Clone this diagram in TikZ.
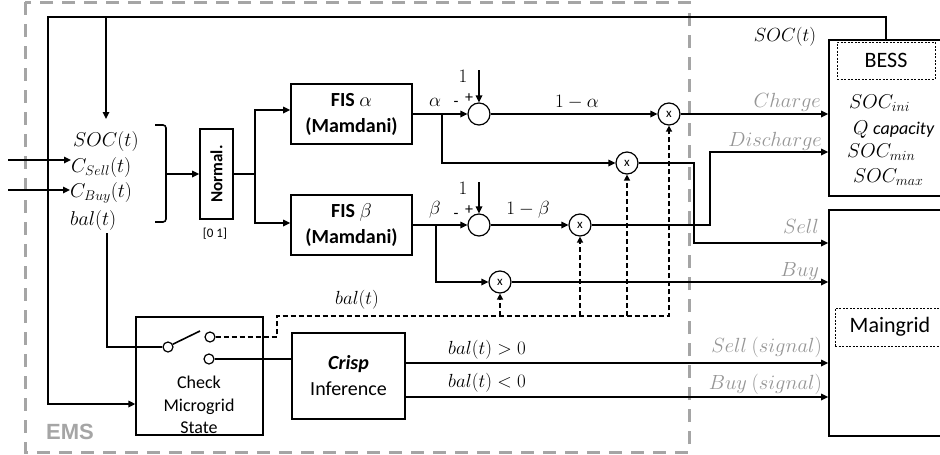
\RequirePackage{fix-cm}
\documentclass[tikz,border=0pt]{standalone}
\usepackage[no-math]{fontspec}
\setmainfont{Carlito}
\newfontfamily\emsfont{Liberation Sans}
\usetikzlibrary{arrows.meta,calc}
\definecolor{lblgray}{RGB}{150,150,150}
\definecolor{emsgray}{RGB}{165,165,165}
\newcommand{\fsz}[1]{\fontsize{#1}{#1}\selectfont}

\begin{document}
\begin{tikzpicture}[x=1pt,y=-1pt,
  wire/.style={line width=1.6pt},
  arr/.style={line width=1.6pt,-{Triangle[length=7pt,width=6.5pt]}},
  dline/.style={line width=1.4pt,dash pattern=on 5pt off 3pt},
  darr/.style={dline,-{Triangle[length=6pt,width=6pt]}},
  blk/.style={draw,line width=1.6pt,inner sep=0pt},
  sumc/.style={draw,circle,line width=1.2pt,minimum size=22pt,inner sep=0pt},
  mulc/.style={draw,circle,line width=1.2pt,minimum size=22pt,inner sep=0pt,font=\fsz{13}},
  contact/.style={draw,circle,line width=1.2pt,minimum size=10pt,inner sep=0pt,fill=white},
  mlab/.style={font=\fsz{20},inner sep=0pt},
  slab/.style={font=\fsz{19},inner sep=0pt},
  glab/.style={font=\fsz{20.5},inner sep=0pt,text=lblgray,anchor=base east},
  dotbox/.style={draw,line width=0.9pt,dash pattern=on 2pt off 1.5pt,inner sep=0pt},
  emsbox/.style={draw=emsgray,line width=3pt,dash pattern=on 13pt off 9pt},
  sign/.style={font=\fsz{16},inner sep=0pt}
]
\useasboundingbox (0,0) rectangle (940,455);
\fill[white] (0,0) rectangle (940,455);
\clip (0,0) rectangle (940,455);

% EMS frame
\draw[emsbox] (25,2) rectangle (689,452);
\node[font=\emsfont\bfseries\fsz{22},text=emsgray,inner sep=0pt] (ems) at (70,432) {EMS};

% inputs
\node[mlab,anchor=base west] (socin) at (73,146) {$SOC(t)$};
\node[mlab,anchor=base west] (csell) at (71,172) {$C_{Sell}(t)$};
\node[mlab,anchor=base west] (cbuy) at (70,197) {$C_{Buy}(t)$};
\node[mlab,anchor=base west] (balin) at (70,225) {$bal(t)$};

\coordinate (inS) at (8,160);
\coordinate (inB) at (8,190);
\draw[arr] (inS) -- (inS -| csell.west);
\draw[arr] (inB) -- (inB -| cbuy.west);

% bracket
\draw[wire,rounded corners=3pt] (155,125) -- (166,125) -- (166,222) -- (155,222);
\coordinate (brk) at (167,174);

% normalisation
\node[blk,minimum width=33pt,minimum height=90pt] (normal) at (216.5,174) {};
\node[rotate=90,font=\bfseries\fsz{17},inner sep=0pt] (normtxt) at (normal.center) {Normal.};
\node[font=\fsz{13},inner sep=0pt] (rng) at (215,234) {[0 1]};
\draw[arr] (brk) -- (brk -| normal.west);

% FIS blocks
\node[blk,minimum width=121pt,minimum height=60pt,align=center,font=\bfseries\fontsize{20}{26}\selectfont] (fisA) at (351.5,114) {FIS $\alpha$\\(Mamdani)};
\node[blk,minimum width=121pt,minimum height=60pt,align=center,font=\bfseries\fontsize{20}{26}\selectfont] (fisB) at (351.5,225) {FIS $\beta$\\(Mamdani)};

\coordinate (split) at (255,174);
\coordinate (fisAin) at ([yshift=4pt]fisA.west);
\coordinate (fisBin) at ([yshift=2pt]fisB.west);
\draw[wire] (normal.east) -- (split);
\draw[arr] (split) |- (fisAin);
\draw[arr] (split) |- (fisBin);

% alpha row
\node[sumc] (sumA) at (479,114) {};
\node[mulc] (mulA1) at (669,114) {x};
\node[mulc] (mulA2) at (627,163) {x};
\node[slab] (oneA) at (463,76) {$1$};
\node[sign] (minA) at (456,104) {-};
\node[sign] (plusA) at (469,98) {+};
\node[slab] (alab) at (435,102) {$\alpha$};
\node[slab] (omA) at (577,102) {$1-\alpha$};
\coordinate (oneAtop) at (479,70);
\coordinate (brA) at (442,114);
\draw[arr] (fisA.east) -- (sumA.west);
\draw[arr] (oneAtop) -- (sumA.north);
\draw[arr] (brA) |- (mulA2.west);
\draw[arr] (sumA.east) -- (mulA1.west);

% beta row
\node[sumc] (sumB) at (479,225) {};
\node[mulc] (mulB1) at (580,225) {x};
\node[mulc] (mulB2) at (500,282) {x};
\node[slab] (oneB) at (463,188) {$1$};
\node[sign] (minB) at (456,216) {-};
\node[sign] (plusB) at (469,210) {+};
\node[slab] (blab) at (435,210) {$\beta$};
\node[slab] (omB) at (528,210) {$1-\beta$};
\coordinate (oneBtop) at (479,182);
\coordinate (brB) at (436,225);
\draw[arr] (fisB.east) -- (sumB.west);
\draw[arr] (oneBtop) -- (sumB.north);
\draw[arr] (brB) |- (mulB2.west);
\draw[arr] (sumB.east) -- (mulB1.west);

% BESS
\node[blk,minimum width=131pt,minimum height=156pt] (bess) at (894.5,118) {};
\node[dotbox,minimum width=98pt,minimum height=37pt,font=\fsz{22}] (bessname) at (886,60.5) {BESS};
\node[mlab,anchor=base west] (socini) at (849,108) {$SOC_{ini}$};
\node[mlab,anchor=base west] (qcap) at (853,134) {$Q$ {\fsz{18}\itshape capacity}};
\node[mlab,anchor=base west] (socmin) at (847,157) {$SOC_{min}$};
\node[mlab,anchor=base west] (socmax) at (853,182) {$SOC_{max}$};

% Maingrid
\node[blk,minimum width=131pt,minimum height=226pt] (maingrid) at (894.5,323) {};
\node[dotbox,minimum width=110pt,minimum height=38pt,font=\fsz{22}] (mgname) at (890,327) {Maingrid};

% outputs to BESS / grid
\coordinate (sellc) at (694,243);
\coordinate (disc) at (710,152);
\draw[arr] (mulA1.east) -- (mulA1.east -| bess.west);
\draw[arr] (mulA2.east) -| (sellc) -- (sellc -| maingrid.west);
\draw[arr] (mulB1.east) -| (disc) -- (disc -| bess.west);
\draw[arr] (mulB2.east) -- (mulB2.east -| maingrid.west);
\node[glab] (lcharge) at (821,107) {$Charge$};
\node[glab] (ldisch) at (822,146) {$Discharge$};
\node[glab] (lsell) at (819,233) {$Sell$};
\node[glab] (lbuy) at (819,276) {$Buy$};

% feedback SOC(t)
\coordinate (fbL) at (48,17);
\coordinate (soctap) at (106,17);
\coordinate (socarr) at (106,119);
\node[slab,anchor=base] (socfb) at (785,41) {$SOC(t)$};

% check microgrid state
\node[blk,line width=1.3pt,minimum width=127pt,minimum height=118pt] (check) at (199.5,376) {};
\node[align=center,font=\fontsize{18}{22.5}\selectfont,inner sep=0pt] (checktxt) at (199,405) {Check\\Microgrid\\State};
\draw[arr] ([xshift=-8.5pt]bess.north) |- (fbL) |- ([yshift=-28pt]check.west);
\draw[arr] (soctap) -- (socarr);

% switch
\node[contact] (swL) at (168,347) {};
\node[contact] (swT) at (210,337) {};
\node[contact] (swB) at (209,359) {};
\coordinate (lever) at (200,331);
\coordinate (balout) at (107,233);
\draw[wire] (balout) |- (swL.west);
\draw[wire] (swL.30) -- (lever);

% crisp inference
\node[blk,line width=1.3pt,minimum width=113pt,minimum height=86pt,align=center,font=\fontsize{20}{26}\selectfont] (crisp) at (348.5,376) {\textbf{\textit{Crisp}}\\Inference};
\draw[wire] (swB.east) -- (swB.east -| crisp.west);
\coordinate (cgt) at ([yshift=13pt]crisp.east);
\coordinate (clt) at ([yshift=-21pt]crisp.east);
\draw[arr] (cgt) -- (cgt -| maingrid.west);
\draw[arr] (clt) -- (clt -| maingrid.west);
\node[slab] (lgt) at (487,350) {$bal(t)>0$};
\node[slab] (llt) at (487,383) {$bal(t)<0$};
\node[glab] (lsells) at (822,352) {$Sell\ (signal)$};
\node[glab] (lbuys) at (822,389) {$Buy\ (signal)$};

% dashed bal(t) distribution
\coordinate (dk) at (277,316);
\draw[darr] (swT.east) -| (dk) -| (mulA1.south);
\draw[darr] (dk -| mulA2) -- (mulA2.south);
\draw[darr] (dk -| mulB1) -- (mulB1.south);
\draw[darr] (dk -| mulB2) -- (mulB2.south);
\node[slab] (lbal) at (357,300) {$bal(t)$};
\end{tikzpicture}
\end{document}
